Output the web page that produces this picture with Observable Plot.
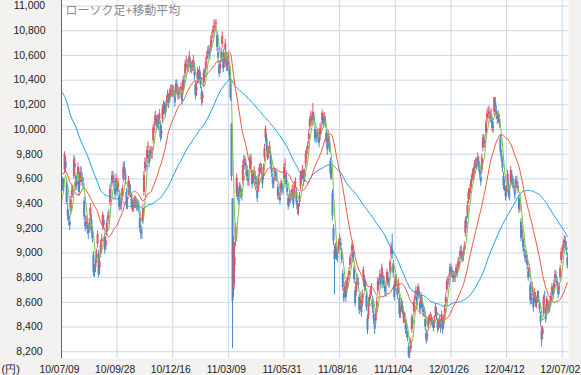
<!DOCTYPE html>
<html><head><meta charset="utf-8">
<script src="https://cdn.jsdelivr.net/npm/d3@7"></script>
<script src="https://cdn.jsdelivr.net/npm/@observablehq/plot@0.6"></script>
<style>html,body{margin:0;padding:0;background:#f3f2f0;}</style>
</head><body><div id="chart"></div>
<script>
// x-axis tick positions (session index) and labels
const xTickIdx = [0, 54, 108, 162, 216, 270, 324, 378, 432, 486];
const xTickLabels = ["10/07/09","10/09/28","10/12/16","11/03/09","11/05/31","11/08/16","11/11/04","12/01/26","12/04/12","12/07/02"];
const yTicks = [8200, 8400, 8600, 8800, 9000, 9200, 9400, 9600, 9800, 10000, 10200, 10400, 10600, 10800, 11000];

// closes of the 24 sessions before the first candle (feed the moving averages only)
const preClose = [9520,9537,9439,9542,9705,9879,9878,9887,9680,9995,10238,10112,9923,9928,9737,9693,9570,9382,9191,9203,9266,9338,9279,9535];

// 75-day average at the left edge (before the full window is available)
const blueEarlyIdx = [0,4,9,14,18,23,27,31,35,38,41,46,50];
const blueEarlyVal = [10308,10249,10108,10020,9924,9830,9749,9654,9573,9505,9478,9459,9451];

const open = [
9560,9565,9545,9670,9740,9550,9350,9290,9250,9330,
9470,9500,9620,9720,9620,9550,9630,9590,9570,9650,
9610,9560,9420,9250,9230,9220,9180,9200,9300,9270,
9150,8980,8850,8880,8950,9070,8990,8880,8990,9090,
9210,9260,9130,9060,9170,9270,9300,9410,9510,9570,
9610,9580,9520,9540,9550,9530,9460,9390,9390,9450,
9600,9690,9640,9490,9400,9490,9540,9500,9440,9380,
9380,9400,9410,9390,9380,9380,9280,9180,9160,9260,
9490,9680,9710,9760,9850,9790,9780,9810,9800,9910,
10020,10070,10070,10050,10060,10080,10030,9960,10080,10170,
10170,10150,10190,10260,10250,10250,10300,10310,10310,10310,
10260,10290,10360,10310,10290,10290,10320,10290,10310,10390,
10450,10540,10520,10510,10550,10540,10500,10510,10540,10500,
10360,10310,10400,10430,10440,10420,10300,10250,10370,10440,
10490,10570,10610,10630,10610,10660,10740,10780,10820,10840,
10850,10760,10620,10520,10490,10580,10690,10620,10540,10640,
10600,10510,10560,10510,10400,10040,9440,8700,8900,9100,
9480,9530,9440,9480,9510,9470,9580,9730,9730,9710,
9670,9600,9590,9680,9740,9640,9600,9650,9620,9570,
9500,9520,9650,9680,9680,9610,9620,9770,9930,9930,
9830,9810,9840,9790,9680,9600,9560,9610,9640,9610,
9530,9470,9450,9490,9540,9510,9600,9710,9640,9520,
9440,9410,9450,9460,9490,9450,9470,9560,9490,9380,
9350,9410,9540,9610,9640,9630,9610,9720,9810,9840,
9920,10020,10090,10090,10100,10100,10000,9940,9950,9960,
9930,9950,10010,10070,10090,10070,10070,9970,9870,9900,
9900,9740,9650,9480,9200,9020,8990,9010,8970,9020,
9100,9080,9000,8830,8670,8680,8690,8700,8780,8820,
8900,8950,9010,9000,8870,8690,8680,8780,8760,8640,
8580,8570,8590,8770,8790,8730,8650,8470,8490,8610,
8660,8700,8620,8500,8420,8450,8560,8690,8750,8780,
8790,8810,8810,8760,8730,8680,8760,8800,8760,8840,
8990,9020,8910,8740,8720,8780,8710,8700,8630,8510,
8560,8570,8500,8470,8430,8360,8330,8240,8160,8220,
8380,8450,8520,8620,8670,8640,8650,8690,8600,8590,
8600,8540,8520,8460,8350,8320,8400,8460,8470,8460,
8430,8410,8430,8510,8520,8440,8410,8430,8420,8440,
8440,8420,8510,8590,8700,8770,8780,8830,8870,8850,
8820,8800,8800,8840,8850,8880,8920,8970,9010,8970,
8970,9020,9160,9250,9310,9430,9470,9510,9570,9620,
9640,9680,9720,9710,9740,9740,9670,9610,9670,9850,
9910,9890,9970,10090,10120,10130,10110,10100,10070,10010,
10140,10220,10150,10100,10090,10080,9930,9790,9730,9620,
9540,9500,9490,9580,9550,9470,9570,9630,9570,9550,
9500,9530,9570,9540,9440,9370,9250,9150,9110,9030,
8980,8960,8940,8850,8840,8740,8620,8680,8640,8620,
8640,8590,8620,8640,8590,8490,8370,8340,8510,8640,
8550,8540,8580,8550,8570,8610,8680,8690,8700,8790,
8810,8770,8700,8700,8800,8940,9000,9030,9080,9090,
9050,8960];

const high = [
9640,9610,9600,9820,9780,9580,9400,9340,9300,9460,
9540,9550,9790,9770,9650,9610,9730,9620,9690,9700,
9650,9610,9450,9300,9300,9270,9230,9280,9400,9310,
9200,9010,8900,8950,9030,9180,9020,8960,9100,9150,
9330,9310,9160,9130,9270,9330,9350,9550,9570,9660,
9660,9630,9550,9640,9580,9600,9500,9450,9440,9550,
9730,9740,9680,9520,9450,9620,9580,9550,9480,9430,
9430,9460,9460,9440,9430,9420,9320,9230,9210,9390,
9660,9770,9760,9860,9900,9830,9860,9860,9860,10040,
10070,10150,10110,10120,10110,10160,10070,10030,10200,10230,
10220,10200,10270,10320,10290,10330,10360,10360,10360,10350,
10300,10400,10400,10350,10340,10340,10380,10320,10430,10440,
10560,10590,10570,10560,10630,10580,10550,10560,10600,10540,
10390,10380,10500,10480,10510,10460,10340,10310,10490,10490,
10580,10630,10670,10680,10660,10760,10790,10840,10890,10880,
10890,10790,10660,10550,10560,10660,10790,10650,10620,10730,
10630,10570,10620,10540,10430,10050,9440,9130,9080,9240,
9640,9560,9490,9570,9550,9520,9740,9790,9780,9760,
9710,9640,9640,9800,9790,9670,9670,9700,9660,9620,
9530,9640,9720,9730,9720,9650,9720,9880,10030,9960,
9870,9860,9900,9820,9720,9640,9610,9690,9680,9660,
9560,9520,9490,9590,9580,9560,9720,9760,9670,9560,
9470,9480,9500,9510,9550,9490,9580,9610,9520,9420,
9400,9490,9660,9660,9710,9670,9680,9830,9860,9900,
10000,10110,10150,10130,10210,10140,10030,10000,9990,10010,
9970,10040,10060,10160,10130,10140,10110,10000,9910,9990,
9940,9770,9700,9510,9230,9060,9080,9050,9020,9110,
9150,9120,9040,8860,8710,8760,8720,8800,8830,8880,
8980,9000,9090,9040,8900,8720,8790,8830,8800,8670,
8650,8610,8700,8890,8820,8780,8680,8500,8640,8660,
8730,8750,8650,8540,8460,8550,8640,8800,8790,8860,
8830,8910,8840,8810,8760,8730,8870,8840,8800,8950,
9080,9150,8940,8770,8830,8820,8740,8790,8660,8560,
8630,8610,8540,8520,8460,8400,8370,8270,8210,8310,
8500,8490,8620,8680,8730,8670,8750,8730,8630,8680,
8640,8580,8560,8490,8380,8370,8490,8500,8520,8500,
8470,8450,8490,8590,8560,8470,8460,8490,8460,8530,
8470,8500,8580,8670,8790,8810,8830,8910,8910,8890,
8860,8850,8850,8910,8890,8960,8970,9050,9060,9010,
9030,9090,9290,9300,9420,9520,9520,9590,9630,9680,
9690,9750,9770,9760,9810,9780,9710,9650,9800,9960,
9960,9940,10080,10160,10180,10190,10150,10170,10100,10060,
10260,10260,10190,10140,10150,10120,9960,9830,9770,9650,
9590,9540,9560,9670,9580,9510,9700,9670,9620,9600,
9540,9620,9620,9580,9470,9420,9280,9220,9150,9070,
9020,9010,8980,8880,8910,8770,8670,8760,8670,8710,
8680,8640,8690,8690,8620,8520,8400,8410,8660,8690,
8580,8650,8620,8610,8620,8680,8750,8730,8780,8860,
8850,8800,8740,8760,8900,9040,9050,9100,9140,9130,
9090,9000];

const low = [
9510,9500,9490,9640,9650,9390,9260,9220,9180,9300,
9440,9450,9600,9660,9500,9510,9600,9460,9540,9600,
9540,9510,9260,9170,9190,9150,9110,9160,9260,9150,
9080,8810,8800,8840,8910,9040,8800,8820,8960,9050,
9180,9190,8990,9020,9140,9230,9250,9380,9460,9540,
9560,9530,9440,9510,9460,9490,9340,9350,9340,9420,
9570,9640,9550,9350,9350,9460,9470,9450,9350,9330,
9330,9360,9360,9340,9340,9320,9170,9110,9110,9230,
9460,9650,9660,9730,9800,9690,9740,9760,9760,9880,
9970,10030,9990,10010,9990,10040,9900,9920,10050,10120,
10120,10100,10150,10220,10170,10210,10260,10260,10260,10260,
10180,10260,10310,10240,10240,10250,10280,10200,10280,10340,
10420,10490,10470,10460,10510,10460,10450,10470,10500,10400,
10240,10270,10370,10370,10400,10330,10190,10210,10340,10390,
10450,10530,10570,10580,10560,10630,10690,10740,10780,10790,
10800,10630,10540,10420,10450,10540,10660,10460,10500,10600,
10470,10470,10520,10400,10230,9580,8227,8640,8740,9050,
9450,9420,9390,9450,9440,9420,9550,9690,9670,9670,
9580,9540,9540,9650,9680,9520,9560,9600,9550,9520,
9410,9490,9610,9640,9630,9520,9590,9740,9900,9820,
9750,9760,9800,9680,9610,9520,9520,9580,9580,9570,
9430,9430,9390,9460,9490,9470,9570,9670,9520,9460,
9350,9370,9400,9420,9450,9360,9440,9520,9380,9310,
9300,9370,9510,9560,9600,9540,9570,9690,9760,9800,
9880,9990,10050,10030,10070,10030,9890,9900,9890,9920,
9850,9910,9960,10040,10010,10030,10010,9870,9790,9860,
9810,9600,9590,9260,9060,8660,8950,8940,8920,8990,
9060,9020,8910,8690,8600,8640,8600,8670,8740,8780,
8870,8910,8970,8920,8750,8560,8650,8740,8700,8500,
8540,8480,8560,8740,8690,8690,8530,8340,8460,8570,
8620,8650,8510,8420,8340,8420,8520,8660,8700,8740,
8710,8780,8710,8720,8650,8640,8730,8730,8710,8810,
8950,8950,8800,8610,8690,8730,8620,8670,8470,8470,
8520,8500,8430,8430,8340,8310,8280,8140,8135,8190,
8350,8400,8490,8580,8630,8540,8620,8630,8500,8560,
8520,8480,8480,8370,8260,8280,8370,8420,8430,8410,
8390,8360,8390,8480,8450,8350,8370,8390,8350,8410,
8340,8390,8470,8560,8670,8720,8740,8800,8810,8800,
8760,8760,8760,8810,8800,8850,8880,8940,8960,8920,
8930,8990,9130,9200,9280,9400,9430,9480,9530,9590,
9590,9640,9680,9670,9700,9660,9600,9540,9640,9820,
9850,9850,9940,10050,10080,10090,10050,10060,9980,9970,
10110,10140,10080,10040,10050,10010,9790,9730,9650,9510,
9500,9420,9450,9550,9440,9420,9540,9550,9520,9500,
9430,9500,9520,9480,9320,9330,9090,9110,9010,8970,
8920,8920,8860,8770,8800,8580,8580,8650,8520,8590,
8560,8550,8590,8600,8510,8400,8240,8300,8480,8590,
8430,8510,8500,8510,8520,8570,8650,8620,8670,8750,
8760,8700,8630,8660,8770,8910,8960,9000,9040,9040,
8980,8870];

const close = [
9585,9548,9537,9795,9685,9408,9300,9278,9220,9431,
9503,9496,9753,9696,9537,9570,9694,9489,9653,9642,
9572,9551,9292,9212,9253,9196,9161,9240,9362,9179,
9116,8845,8845,8906,8991,9149,8824,8927,9062,9114,
9301,9226,9024,9098,9239,9299,9299,9516,9509,9626,
9602,9566,9471,9603,9495,9560,9369,9404,9381,9518,
9691,9684,9588,9388,9403,9583,9500,9498,9381,9381,
9376,9426,9401,9377,9387,9366,9202,9154,9159,9358,
9625,9732,9694,9830,9861,9724,9827,9797,9811,10013,
10022,10115,10030,10079,10039,10125,9937,9988,10168,10178,
10167,10141,10232,10285,10211,10293,10316,10309,10311,10303,
10216,10370,10346,10279,10292,10292,10344,10229,10398,10380,
10529,10541,10510,10512,10589,10499,10502,10518,10557,10437,
10274,10345,10464,10401,10478,10360,10237,10274,10457,10431,
10543,10592,10635,10617,10605,10725,10746,10808,10836,10842,
10857,10664,10579,10452,10526,10624,10754,10492,10586,10693,
10505,10525,10589,10434,10254,9620,8605,9093,8962,9206,
9608,9449,9435,9536,9478,9459,9708,9755,9708,9718,
9615,9584,9590,9768,9719,9555,9641,9653,9591,9556,
9441,9607,9685,9682,9671,9558,9691,9849,10004,9859,
9794,9818,9864,9716,9648,9558,9567,9662,9620,9607,
9460,9477,9422,9562,9521,9504,9693,9719,9555,9492,
9380,9442,9449,9467,9514,9391,9547,9574,9411,9351,
9354,9459,9629,9597,9678,9578,9648,9797,9816,9868,
9965,10082,10100,10071,10137,10069,9925,9963,9936,9974,
9889,10005,10010,10132,10050,10097,10047,9901,9833,9965,
9844,9637,9659,9299,9097,8944,9038,8981,8963,9086,
9107,9057,8943,8719,8628,8733,8639,8772,8797,8851,
8954,8955,9060,8950,8784,8590,8763,8793,8737,8535,
8616,8518,8668,8864,8721,8741,8560,8374,8609,8615,
8701,8700,8545,8456,8382,8522,8605,8773,8738,8823,
8747,8879,8741,8772,8682,8678,8843,8762,8748,8926,
9050,8988,8835,8640,8801,8767,8655,8755,8500,8514,
8603,8541,8463,8479,8374,8348,8314,8165,8160,8287,
8477,8434,8597,8643,8695,8575,8722,8664,8536,8653,
8552,8519,8518,8401,8296,8336,8459,8460,8479,8440,
8423,8398,8455,8560,8488,8390,8422,8448,8385,8500,
8378,8466,8550,8639,8766,8765,8785,8883,8849,8841,
8793,8802,8809,8876,8831,8929,8917,9015,9002,8947,
8999,9052,9260,9238,9384,9485,9463,9554,9595,9647,
9633,9722,9723,9707,9777,9698,9637,9576,9768,9929,
9889,9899,10050,10123,10129,10141,10086,10127,10011,10018,
10255,10182,10114,10083,10109,10050,9819,9767,9688,9546,
9538,9458,9524,9637,9470,9464,9667,9588,9561,9542,
9468,9590,9561,9520,9350,9380,9119,9181,9045,9009,
8953,8973,8900,8801,8876,8611,8633,8729,8556,8680,
8593,8593,8657,8633,8542,8440,8295,8383,8639,8639,
8459,8625,8536,8568,8568,8647,8721,8655,8752,8824,
8798,8734,8663,8730,8874,9006,9003,9066,9104,9073,
9020,8896];

const upColor = "#d9566b", downColor = "#4a8ac6";
const candles = close.map((c, i) => ({i, open: open[i], high: high[i], low: low[i], close: c}));
const series = preClose.map((c, k) => ({i: k - preClose.length, close: c}))
  .concat(candles.map(d => ({i: d.i, close: d.close})));
const blueEarly = blueEarlyIdx.map((x, k) => ({i: x, v: blueEarlyVal[k]}));
const labelMap = new Map(xTickIdx.map((d, k) => [d, xTickLabels[k]]));
const fmt = d3.format(",");
const gridColor = "#c9d6ec";
const candleColor = d => d.close >= d.open ? upColor : downColor;

const chart = Plot.plot({
  width: 581, height: 375,
  marginLeft: 61, marginRight: 13, marginTop: 0, marginBottom: 17,
  x: {domain: [0, 492.1], axis: null},
  y: {domain: [8145, 11045], axis: null},
  style: {background: "#f3f2f0", fontFamily: "'Liberation Sans', Arial, sans-serif"},
  marks: [
    Plot.frame({fill: "white", stroke: null}),
    Plot.gridY(yTicks, {stroke: gridColor, strokeOpacity: 1, strokeWidth: 1}),
    Plot.gridX(xTickIdx, {stroke: gridColor, strokeOpacity: 1, strokeWidth: 1}),
    Plot.ruleX(candles, {x: "i", y1: "low", y2: "high", stroke: candleColor, strokeWidth: 1, clip: true}),
    Plot.ruleX(candles, {x: "i", y1: "open", y2: "close", stroke: candleColor, strokeWidth: 2, clip: true}),
    Plot.line(blueEarly, {x: "i", y: "v", stroke: "#18a0e0", strokeWidth: 1, curve: "monotone-x", clip: true}),
    Plot.line(series, Plot.windowY({k: 75, anchor: "end", reduce: "mean", strict: true}, {x: "i", y: "close", stroke: "#18a0e0", strokeWidth: 1, clip: true})),
    Plot.line(series, Plot.windowY({k: 25, anchor: "end", reduce: "mean", strict: true}, {x: "i", y: "close", stroke: "#f0563c", strokeWidth: 1, clip: true})),
    Plot.line(series, Plot.windowY({k: 5, anchor: "end", reduce: "mean", strict: true}, {x: "i", y: "close", stroke: "#7dc142", strokeWidth: 1, clip: true})),
    Plot.ruleX([0], {stroke: "#666", strokeWidth: 1}),
    Plot.text(yTicks, {y: d => d, text: d => fmt(d), frameAnchor: "left", dx: -32, textAnchor: "middle", fontSize: 10.5, fill: "#222"}),
    Plot.text(xTickIdx, {x: d => d, text: d => labelMap.get(d), frameAnchor: "bottom", dx: -2, dy: 11, lineAnchor: "middle", fontSize: 10.3, fill: "#222"}),
    Plot.text(["(円)"], {frameAnchor: "bottom-left", dx: -60, dy: 11, textAnchor: "start", lineAnchor: "middle", fontSize: 11, fill: "#222"}),
    Plot.text(["ローソク足+移動平均"], {frameAnchor: "top-left", dx: 4, dy: 11, textAnchor: "start", lineAnchor: "middle", fontSize: 12, fill: "#8a8a8a", fontFamily: "'Noto Sans CJK JP', sans-serif"})
  ]
});
document.getElementById("chart").appendChild(chart);
</script>
</body></html>
